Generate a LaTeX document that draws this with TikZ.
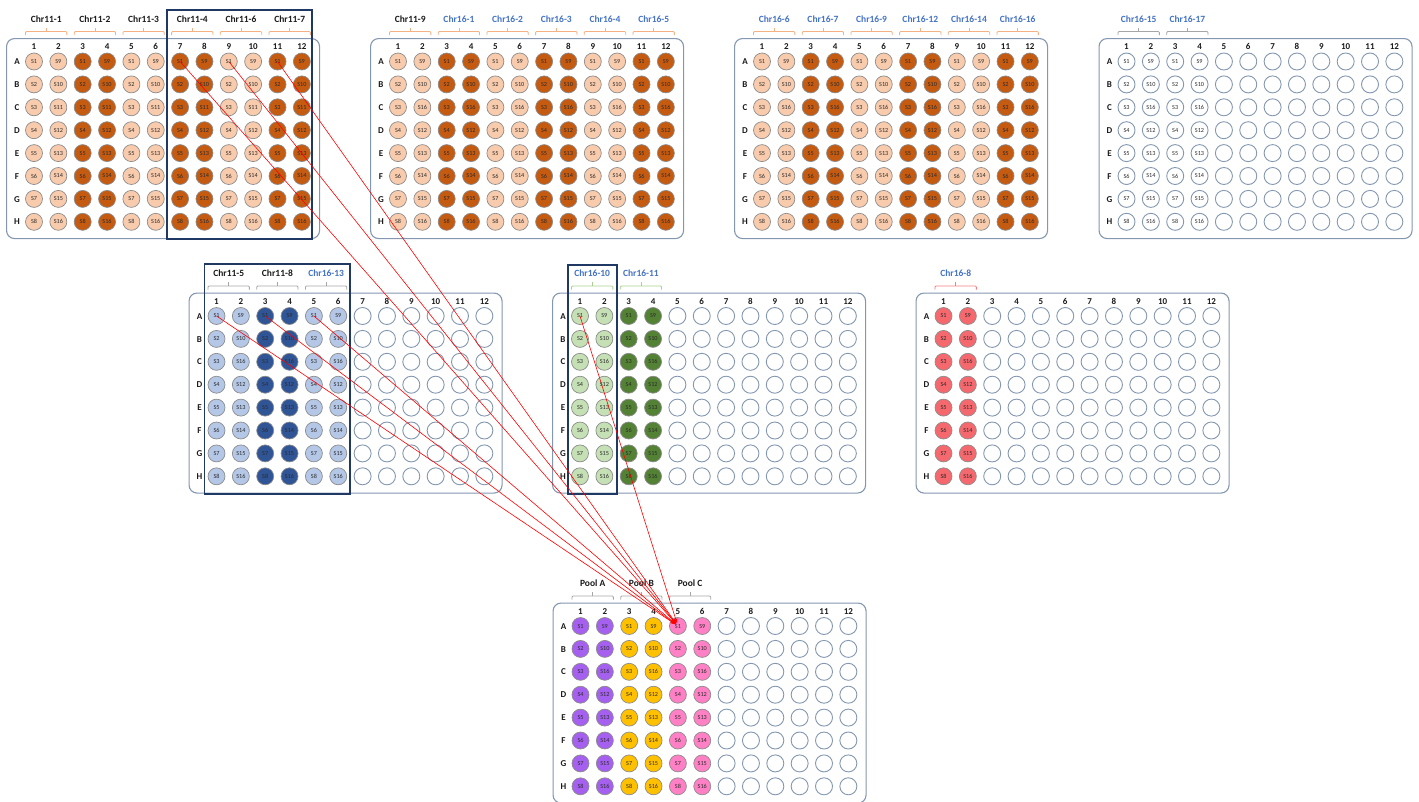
\documentclass[tikz,border=0pt]{standalone}
\usepackage{fontspec}
\setmainfont{Carlito}
\usetikzlibrary{arrows.meta}
\definecolor{peachL}{HTML}{F8CBAD}
\definecolor{orangeD}{HTML}{C55A11}
\definecolor{blueL}{HTML}{B4C7E7}
\definecolor{blueD}{HTML}{2F5597}
\definecolor{greenL}{HTML}{C5E0B4}
\definecolor{greenD}{HTML}{548235}
\definecolor{salmon}{HTML}{F5696E}
\definecolor{purpleP}{HTML}{A660F0}
\definecolor{yellowP}{HTML}{FFC000}
\definecolor{pinkP}{HTML}{FF80C4}
\definecolor{wellEdge}{HTML}{8C8C8C}
\definecolor{emptyEdge}{HTML}{8497B0}
\definecolor{plateEdge}{HTML}{8497B0}
\definecolor{navy}{HTML}{1F3864}
\definecolor{chrblue}{HTML}{4472C4}
\definecolor{txtdark}{HTML}{1A1A1A}
\definecolor{brkPeach}{HTML}{F4B183}
\definecolor{brkGrey}{HTML}{A6A6A6}
\definecolor{brkGreen}{HTML}{A9D18E}
\definecolor{brkSalmon}{HTML}{F47C80}
\definecolor{wellTxt}{HTML}{2B2B2B}
\tikzset{
  plateframe/.style={draw=plateEdge, line width=1.1pt, rounded corners=8pt,
    minimum width=313pt, minimum height=200pt, anchor=north west, inner sep=0pt},
  well/.style={circle, minimum size=17pt, inner sep=0pt, draw=wellEdge, line width=0.7pt,
    font=\fontsize{6.2}{7}\selectfont, text=wellTxt},
  wEmpty/.style={well, draw=emptyEdge, fill=white, line width=0.9pt},
  wWhite/.style={well, draw=emptyEdge, fill=white, line width=0.9pt},
  wPeach/.style={well, fill=peachL},
  wOrange/.style={well, fill=orangeD},
  wBlueL/.style={well, fill=blueL},
  wBlueD/.style={well, fill=blueD},
  wGreenL/.style={well, fill=greenL},
  wGreenD/.style={well, fill=greenD},
  wSalmon/.style={well, fill=salmon},
  wPurple/.style={well, fill=purpleP},
  wYellow/.style={well, fill=yellowP},
  wPink/.style={well, fill=pinkP},
  colnum/.style={font=\bfseries\fontsize{9}{10}\selectfont, inner sep=0pt, text=txtdark,
    text height=6.3pt, text depth=0pt},
  rowlet/.style={font=\bfseries\fontsize{9}{10}\selectfont, inner sep=0pt, text=txtdark,
    text height=6.3pt, text depth=0pt},
  chrlab/.style={font=\bfseries\fontsize{9.5}{11}\selectfont, inner sep=0pt},
  brkline/.style={line width=0.8pt, rounded corners=1pt},
  hilite/.style={draw=navy, line width=1.8pt},
  redline/.style={draw=red, line width=0.6pt, shorten >=3pt, -{Stealth[length=5pt,width=3.5pt]}},
}
% #1 name, #2 left, #3 top, #4 number of labelled columns, #5 style list, #6 row-C even number
\newcommand\plate[6]{%
  \node[plateframe] (#1) at (#2,#3) {};
  \foreach \ci in {1,...,12}{\node[colnum] (#1-n\ci) at ({#2+28+(\ci-1)*24.35},{#3+8.5}) {\ci};}
  \foreach \Li [count=\ri] in {A,...,H}{\node[rowlet] (#1-\Li) at ({#2+11},{#3+23.5+(\ri-1)*22.9}) {\Li};}
  \foreach \si [count=\ci] in {#5}{%
    \foreach \Li [count=\ri] in {A,...,H}{%
      \ifnum\ci>#4\relax
        \node[\si] (#1-\Li\ci) at ({#2+28+(\ci-1)*24.35},{#3+23.5+(\ri-1)*22.9}) {};
      \else
        \ifodd\ci\relax \edef\wlab{S\ri}\else
          \ifnum\ri=3\relax \def\wlab{S#6}\else \edef\wlab{S\the\numexpr\ri+8\relax}\fi
        \fi
        \node[\si] (#1-\Li\ci) at ({#2+28+(\ci-1)*24.35},{#3+23.5+(\ri-1)*22.9}) {\wlab};
      \fi
    }}
}
% #1 name, #2 left, #3 top, #4 first col, #5 text, #6 text colour, #7 bracket colour
\newcommand\brk[7]{%
  \pgfmathsetmacro\bx{#2+28+(#4-1)*24.35}
  \draw[brkline, draw=#7] ({\bx-8.5},{#3-3}) -- ({\bx-8.5},{#3-6.5}) -- ({\bx+24.35+8.5},{#3-6.5}) -- ({\bx+24.35+8.5},{#3-3});
  \draw[brkline, draw=#7] ({\bx+12.2},{#3-6.5}) -- ({\bx+12.2},{#3-10.5});
  \node[chrlab, text=#6] (#1) at ({\bx+12.2},{#3-19}) {#5};
}
\begin{document}
\begin{tikzpicture}[x=1pt,y=-1pt]
\useasboundingbox (0,0) rectangle (1419,801);
% ---- top row plates
\plate{p1}{6}{38}{12}{wPeach,wPeach,wOrange,wOrange,wPeach,wPeach,wOrange,wOrange,wPeach,wPeach,wOrange,wOrange}{11}
\plate{p2}{370}{38}{12}{wPeach,wPeach,wOrange,wOrange,wPeach,wPeach,wOrange,wOrange,wPeach,wPeach,wOrange,wOrange}{16}
\plate{p3}{734}{38}{12}{wPeach,wPeach,wOrange,wOrange,wPeach,wPeach,wOrange,wOrange,wPeach,wPeach,wOrange,wOrange}{16}
\plate{p4}{1098.5}{38}{4}{wWhite,wWhite,wWhite,wWhite,wEmpty,wEmpty,wEmpty,wEmpty,wEmpty,wEmpty,wEmpty,wEmpty}{16}
% ---- middle row plates
\plate{p5}{188.5}{292.5}{6}{wBlueL,wBlueL,wBlueD,wBlueD,wBlueL,wBlueL,wEmpty,wEmpty,wEmpty,wEmpty,wEmpty,wEmpty}{16}
\plate{p6}{552}{292.5}{4}{wGreenL,wGreenL,wGreenD,wGreenD,wEmpty,wEmpty,wEmpty,wEmpty,wEmpty,wEmpty,wEmpty,wEmpty}{16}
\plate{p7}{915.5}{292.5}{2}{wSalmon,wSalmon,wEmpty,wEmpty,wEmpty,wEmpty,wEmpty,wEmpty,wEmpty,wEmpty,wEmpty,wEmpty}{16}
% ---- pool plate
\plate{pool}{552.5}{602.5}{6}{wPurple,wPurple,wYellow,wYellow,wPink,wPink,wEmpty,wEmpty,wEmpty,wEmpty,wEmpty,wEmpty}{16}
% ---- brackets and labels
\brk{l1}{6}{38}{1}{Chr11-1}{txtdark}{brkPeach}
\brk{l2}{6}{38}{3}{Chr11-2}{txtdark}{brkPeach}
\brk{l3}{6}{38}{5}{Chr11-3}{txtdark}{brkPeach}
\brk{l4}{6}{38}{7}{Chr11-4}{txtdark}{brkPeach}
\brk{l5}{6}{38}{9}{Chr11-6}{txtdark}{brkPeach}
\brk{l6}{6}{38}{11}{Chr11-7}{txtdark}{brkPeach}
\brk{l7}{370}{38}{1}{Chr11-9}{txtdark}{brkPeach}
\brk{l8}{370}{38}{3}{Chr16-1}{chrblue}{brkPeach}
\brk{l9}{370}{38}{5}{Chr16-2}{chrblue}{brkPeach}
\brk{l10}{370}{38}{7}{Chr16-3}{chrblue}{brkPeach}
\brk{l11}{370}{38}{9}{Chr16-4}{chrblue}{brkPeach}
\brk{l12}{370}{38}{11}{Chr16-5}{chrblue}{brkPeach}
\brk{l13}{734}{38}{1}{Chr16-6}{chrblue}{brkPeach}
\brk{l14}{734}{38}{3}{Chr16-7}{chrblue}{brkPeach}
\brk{l15}{734}{38}{5}{Chr16-9}{chrblue}{brkPeach}
\brk{l16}{734}{38}{7}{Chr16-12}{chrblue}{brkPeach}
\brk{l17}{734}{38}{9}{Chr16-14}{chrblue}{brkPeach}
\brk{l18}{734}{38}{11}{Chr16-16}{chrblue}{brkPeach}
\brk{l19}{1098.5}{38}{1}{Chr16-15}{chrblue}{brkGrey}
\brk{l20}{1098.5}{38}{3}{Chr16-17}{chrblue}{brkGrey}
\brk{l21}{188.5}{292.5}{1}{Chr11-5}{txtdark}{brkGrey}
\brk{l22}{188.5}{292.5}{3}{Chr11-8}{txtdark}{brkGrey}
\brk{l23}{188.5}{292.5}{5}{Chr16-13}{chrblue}{brkGrey}
\brk{l24}{552}{292.5}{1}{Chr16-10}{chrblue}{brkGreen}
\brk{l25}{552}{292.5}{3}{Chr16-11}{chrblue}{brkGreen}
\brk{l26}{915.5}{292.5}{1}{Chr16-8}{chrblue}{brkSalmon}
\brk{l27}{552.5}{602.5}{1}{Pool A}{txtdark}{brkGrey}
\brk{l28}{552.5}{602.5}{3}{Pool B}{txtdark}{brkGrey}
\brk{l29}{552.5}{602.5}{5}{Pool C}{txtdark}{brkGrey}
% ---- highlight boxes
\draw[hilite] (167,10) rectangle (312,239);
\draw[hilite] (204.5,264) rectangle (350,494);
\draw[hilite] (568,265) rectangle (617,494);
% ---- transfer lines
\draw[redline] (p1-A7.center) -- (pool-A5.center);
\draw[redline] (p1-A9.center) -- (pool-A5.center);
\draw[redline] (p1-A11.center) -- (pool-A5.center);
\draw[redline] (p5-A1.center) -- (pool-A5.center);
\draw[redline] (p5-A3.center) -- (pool-A5.center);
\draw[redline] (p5-A5.center) -- (pool-A5.center);
\draw[redline] (p6-A1.center) -- (pool-A5.center);
\end{tikzpicture}
\end{document}
